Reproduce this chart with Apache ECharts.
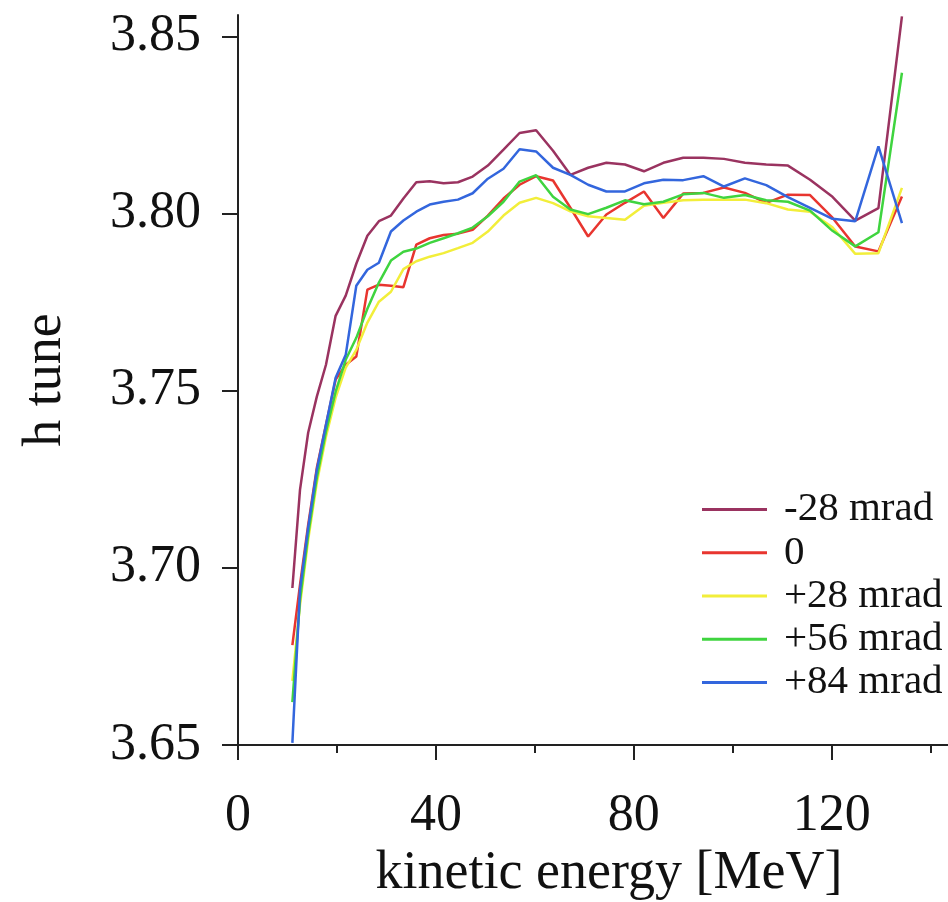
<!DOCTYPE html>
<html>
<head>
<meta charset="utf-8">
<style>html,body{margin:0;padding:0;background:#fff}#c{width:948px;height:902px}</style>
<script src="https://cdn.jsdelivr.net/npm/echarts@6/dist/echarts.min.js"></script>
</head>
<body>
<div id="c"></div>
<script>
// kinetic energy [MeV]
const energy = [10.99,12.53,14.18,15.93,17.78,19.73,21.77,23.91,26.15,28.48,30.91,33.43,36.04,38.75,41.55,44.45,47.43,50.50,53.66,56.91,60.25,63.67,67.18,70.77,74.45,78.21,82.05,85.97,89.98,94.06,98.22,102.45,106.76,111.15,115.62,120.15,124.76,129.44,134.19];
// h tune per series
const tuneM28 = [3.6943,3.7220,3.7381,3.7483,3.7573,3.7711,3.7768,3.7858,3.7937,3.7978,3.7994,3.8042,3.8088,3.8091,3.8085,3.8088,3.8104,3.8135,3.8180,3.8227,3.8235,3.8177,3.8109,3.8129,3.8143,3.8138,3.8119,3.8143,3.8157,3.8157,3.8154,3.8143,3.8138,3.8135,3.8095,3.8047,3.7980,3.8015,3.8556];
const tune0 = [3.6782,3.6952,3.7121,3.7282,3.7404,3.7531,3.7573,3.7596,3.7785,3.7799,3.7796,3.7792,3.7912,3.7930,3.7939,3.7943,3.7954,3.7994,3.8042,3.8081,3.8105,3.8093,3.8016,3.7935,3.7997,3.8030,3.8062,3.7987,3.8056,3.8058,3.8073,3.8058,3.8030,3.8053,3.8052,3.7988,3.7907,3.7893,3.8048];
const tuneP28 = [3.6681,3.6895,3.7079,3.7240,3.7370,3.7480,3.7565,3.7615,3.7692,3.7751,3.7779,3.7843,3.7865,3.7878,3.7888,3.7902,3.7917,3.7949,3.7994,3.8030,3.8044,3.8029,3.8006,3.7992,3.7987,3.7982,3.8022,3.8030,3.8037,3.8039,3.8039,3.8039,3.8029,3.8011,3.8005,3.7961,3.7886,3.7888,3.8072];
const tuneP56 = [3.6621,3.6909,3.7093,3.7254,3.7384,3.7497,3.7587,3.7649,3.7731,3.7805,3.7867,3.7892,3.7901,3.7917,3.7930,3.7944,3.7960,3.7992,3.8033,3.8090,3.8108,3.8047,3.8011,3.7998,3.8016,3.8037,3.8026,3.8033,3.8054,3.8058,3.8044,3.8052,3.8037,3.8033,3.8008,3.7951,3.7907,3.7947,3.8397];
const tuneP84 = [3.6506,3.6938,3.7113,3.7277,3.7404,3.7536,3.7601,3.7796,3.7841,3.7861,3.7949,3.7980,3.8005,3.8025,3.8033,3.8039,3.8057,3.8098,3.8126,3.8181,3.8175,3.8129,3.8109,3.8081,3.8062,3.8062,3.8085,3.8095,3.8094,3.8105,3.8076,3.8099,3.8080,3.8046,3.8016,3.7985,3.7978,3.8189,3.7973];

const seriesNames = ['-28 mrad','0','+28 mrad','+56 mrad','+84 mrad'];
const seriesValues = [tuneM28, tune0, tuneP28, tuneP56, tuneP84];
const seriesColors = ['#9a3360','#e8352f','#f2ee3a','#3fd43f','#3366dd'];

const xMajorTicks = [0,40,80,120];
const xMinorTicks = [20,60,100,140];
const yTicks = [3.65,3.70,3.75,3.80,3.85];

const FONT = '"Liberation Serif","DejaVu Serif",serif';
const axisColor = '#222';

const chart = echarts.init(document.getElementById('c'), null, {renderer:'canvas'});
chart.setOption({
  animation: false,
  backgroundColor: '#fff',
  grid: {left: 238, top: 15, width: 710, height: 730, containLabel: false, outerBoundsMode: 'none'},
  legend: {
    orient: 'vertical',
    left: 702, top: 488, padding: 0,
    icon: 'rect',
    itemWidth: 65, itemHeight: 3, itemGap: 0,
    textStyle: {fontFamily: FONT, fontSize: 41, color: '#111', lineHeight: 43.2, padding: [0,0,0,12]},
    data: seriesNames
  },
  xAxis: [{
    type: 'value', min: 0, max: 143.5,
    position: 'bottom',
    splitLine: {show: false},
    axisLine: {show: true, onZero: false, lineStyle: {color: axisColor, width: 2}},
    axisTick: {show: true, length: 15, lineStyle: {color: axisColor, width: 2}, customValues: xMajorTicks},
    axisLabel: {show: true, customValues: xMajorTicks, fontFamily: FONT, fontSize: 52, color: '#111', margin: 45},
    name: 'kinetic energy [MeV]', nameLocation: 'middle', nameGap: 101,
    nameTextStyle: {fontFamily: FONT, fontSize: 54, color: '#111', padding: [0,0,0,32]}
  },{
    type: 'value', min: 0, max: 143.5,
    position: 'bottom',
    splitLine: {show: false},
    axisLine: {show: false, onZero: false},
    axisTick: {show: true, length: 8, lineStyle: {color: axisColor, width: 2}, customValues: xMinorTicks},
    axisLabel: {show: false}
  }],
  yAxis: {
    type: 'value', min: 3.65, max: 3.856,
    splitLine: {show: false},
    axisLine: {show: true, onZero: false, lineStyle: {color: axisColor, width: 2}},
    axisTick: {show: true, length: 16, lineStyle: {color: axisColor, width: 2}, customValues: yTicks},
    axisLabel: {show: true, customValues: yTicks, fontFamily: FONT, fontSize: 52, color: '#111', margin: 37,
      formatter: v => Number(v).toFixed(2)},
    name: 'h tune', nameLocation: 'middle', nameGap: 165, nameRotate: 90,
    nameTextStyle: {fontFamily: FONT, fontSize: 54, color: '#111'}
  },
  series: seriesNames.map((n, i) => ({
    name: n, type: 'line', xAxisIndex: 0,
    symbol: 'none', showSymbol: false,
    data: energy.map((e, k) => [e, seriesValues[i][k]]),
    lineStyle: {color: seriesColors[i], width: 2.5},
    itemStyle: {color: seriesColors[i]},
    emphasis: {disabled: true}
  }))
});
</script>
</body>
</html>
